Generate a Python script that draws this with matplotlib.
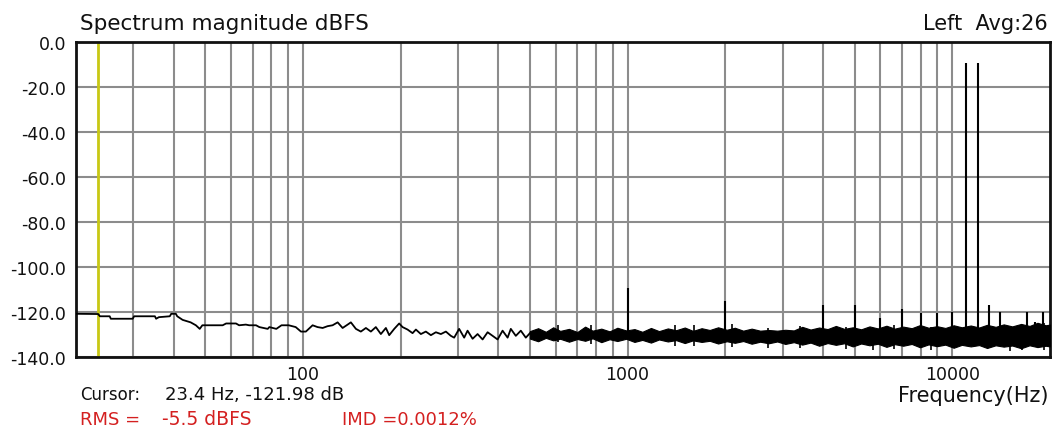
import numpy as np
import matplotlib.pyplot as plt
from matplotlib.ticker import NullFormatter, FixedLocator

# low-frequency trace (Hz, dBFS)
trace_f = [20, 23.4, 23.7, 25.4, 25.6, 29.9, 30.2, 35.0, 35.3, 36.0, 38.9, 39.3, 40.6,
           41.0, 42.6, 45.1, 46.8, 48.1, 49.0, 56.6, 58.0, 62.2, 63.6, 66.7, 68.3,
           71.7, 73.4, 77.9, 78.8, 82.8, 85.9, 90.4, 95.0, 98.6,
           102.1, 107.1, 110.9, 115.0, 119.1, 123.4, 127.9, 132.5, 137.3, 140.5,
           145.6, 150.8, 156.3, 161.9, 167.7, 173.8, 180.1, 184.4, 191.1, 197.9,
           202.7, 210.0, 217.6, 222.8, 230.8, 239.1, 247.8, 256.7, 266.0, 275.6,
           285.5, 292.3, 302.8, 313.8, 321.4, 333.1, 345.1, 357.6, 370.5, 383.9,
           397.7, 412.0, 427.0, 436.8, 452.6, 468.9, 485.8, 503.3]
trace_db = [-120.8, -120.9, -121.9, -121.9, -123.0, -123.0, -121.9, -121.9, -123.0, -122.3, -121.9, -120.8, -120.8,
            -121.9, -123.5, -124.6, -125.9, -127.5, -125.9, -125.9, -125.1, -125.1, -125.9, -125.6, -125.9,
            -125.9, -126.7, -127.5, -126.7, -127.5, -125.9, -125.9, -126.7, -128.7,
            -128.7, -125.9, -126.7, -127.1, -126.3, -125.9, -124.6, -127.1, -125.6, -124.6,
            -127.5, -128.7, -127.1, -128.7, -126.7, -129.8, -127.1, -130.3, -127.5, -125.1,
            -126.7, -127.8, -129.4, -127.8, -129.8, -128.7, -130.3, -129.0, -129.8, -128.7,
            -130.6, -131.4, -127.5, -131.4, -128.3, -131.9, -129.8, -132.2, -129.0, -130.6,
            -132.2, -128.3, -131.4, -127.5, -130.6, -128.3, -131.4, -129.0]

# dense noise band above ~500 Hz: upper / lower envelope
band_f = [500, 530, 560, 590, 620, 660, 700, 740, 780, 830, 880, 930, 990, 1050, 1110, 1180,
          1250, 1330, 1410, 1500, 1590, 1690, 1790, 1900, 2020, 2140, 2270, 2410, 2560, 2720,
          2890, 3060, 3250, 3450, 3660, 3890, 4130, 4380, 4650, 4940, 5240, 5560, 5900, 6270,
          6650, 7060, 7500, 7960, 8450, 8970, 9520, 10100, 10700, 11400, 12100, 12800, 13600,
          14400, 15300, 16300, 17300, 18300, 19400, 20000]
band_hi = [-128.5, -127.2, -128.8, -126.8, -128.4, -127.5, -128.9, -126.5, -128.3, -127.4, -128.6,
           -127.0, -128.2, -127.6, -128.8, -127.1, -128.5, -127.3, -128.1, -126.9, -128.4, -127.2,
           -128.0, -126.8, -127.9, -127.0, -128.3, -127.4, -128.3, -128.0, -128.3, -127.9, -128.2,
           -126.6, -127.8, -126.9, -127.6, -126.2, -127.5, -126.8, -127.7, -126.4, -127.3, -126.1,
           -127.4, -126.5, -127.2, -125.8, -127.0, -126.3, -127.1, -125.9, -126.8, -126.0, -126.9,
           -125.7, -126.6, -125.5, -126.4, -125.3, -126.2, -124.8, -125.9, -125.6]
band_lo = [-131.8, -133.0, -131.5, -132.6, -131.9, -133.2, -132.0, -132.8, -131.7, -133.4, -132.1,
           -132.9, -131.9, -133.3, -132.4, -133.6, -132.2, -133.1, -132.5, -133.8, -132.6, -133.3,
           -132.8, -134.0, -133.0, -133.7, -132.9, -134.1, -133.2, -133.9, -133.1, -134.2, -133.4,
           -134.5, -133.6, -135.0, -133.8, -134.6, -133.9, -135.3, -134.0, -134.8, -134.1, -135.5,
           -134.3, -135.0, -134.2, -135.7, -134.4, -135.2, -134.5, -135.9, -134.6, -135.3, -134.7,
           -136.0, -134.8, -135.4, -134.9, -136.1, -134.8, -135.6, -135.0, -135.3]

# short noise spikes sticking out of the band
spike_f = [610, 770, 1400, 1600, 2100, 2700, 3400, 4700, 5700, 6600, 8600, 15100, 16400, 19100]
spike_hi = [-125.9, -125.6, -125.9, -125.9, -125.5, -127.3, -126.0, -126.7, -127.1, -125.9,
            -126.7, -127.3, -126.3, -125.1]
spike_lo = [-133.5, -134.2, -134.9, -135.2, -135.6, -135.8, -136.0, -136.4, -136.8, -136.6,
            -137.0, -137.2, -136.9, -137.1]

# harmonic / IMD peaks
peak_f = [1000, 2000, 4000, 5000, 6000, 7000, 8000, 9000, 10000, 11000, 12000,
          13000, 14000, 17000, 18000, 19000]
peak_db = [-109.5, -115.2, -117.1, -117.1, -122.7, -118.8, -120.5, -120.5, -120.0, -9.5, -9.5,
           -117.1, -119.9, -120.0, -124.3, -120.0]

cursor_f = 23.4

W, H = 1053, 431
fig = plt.figure(figsize=(W / 100, H / 100), dpi=100)
ax = fig.add_axes([76 / W, 1 - 358 / H, (1050 - 76) / W, (358 - 43) / H])
ax.set_xscale('log')
ax.set_xlim(20, 20000)
ax.set_ylim(-140, 0)

minor = [m * d for d in (10, 100, 1000) for m in range(2, 10) if 20 < m * d < 20000]
ax.xaxis.set_major_locator(FixedLocator([100, 1000, 10000]))
ax.xaxis.set_minor_locator(FixedLocator(minor))
ax.xaxis.set_minor_formatter(NullFormatter())
ax.set_xticklabels(['100', '1000', '10000'])
ax.set_yticks(np.arange(-140, 1, 20))
ax.set_yticklabels(['%.1f' % v for v in np.arange(-140, 1, 20)])
ax.grid(which='both', color='#8c8c8c', lw=1.5)
ax.set_axisbelow(True)
ax.tick_params(which='both', length=0, labelsize=12.5, colors='#111111')
ax.tick_params(axis='y', pad=7)
ax.tick_params(axis='x', pad=6)
for s in ax.spines.values():
    s.set_linewidth(2)
    s.set_color('#111111')

ax.axvline(cursor_f, color='#c8c814', lw=2, zorder=2)
ax.plot(trace_f, trace_db, color='black', lw=1.3, zorder=3)
ax.fill_between(band_f, band_lo, band_hi, color='black', lw=0.8, zorder=3)
ax.vlines(spike_f, spike_lo, spike_hi, color='black', lw=1.2, zorder=3)
ax.vlines(peak_f, -131, peak_db, color='black', lw=1.5, zorder=3)

fig.text(80 / W, 1 - 24 / H, 'Spectrum magnitude dBFS', fontsize=15.5, va='center', ha='left', color='#111111')
fig.text(1048 / W, 1 - 24 / H, 'Left  Avg:26', fontsize=15, va='center', ha='right', color='#111111')
fig.text(1048 / W, 1 - 396 / H, 'Frequency(Hz)', fontsize=15, va='center', ha='right', color='#111111')
fig.text(80 / W, 1 - 395 / H, 'Cursor:', fontsize=12, va='center', ha='left', color='#111111')
fig.text(165 / W, 1 - 395 / H, '23.4 Hz, -121.98 dB', fontsize=13, va='center', ha='left', color='#111111')
red = '#d42020'
fig.text(80 / W, 1 - 420 / H, 'RMS =', fontsize=13, va='center', ha='left', color=red)
fig.text(162 / W, 1 - 420 / H, '-5.5 dBFS', fontsize=13.5, va='center', ha='left', color=red)
fig.text(342 / W, 1 - 420 / H, 'IMD =0.0012%', fontsize=13, va='center', ha='left', color=red)

fig.savefig('out.png', dpi=100)
